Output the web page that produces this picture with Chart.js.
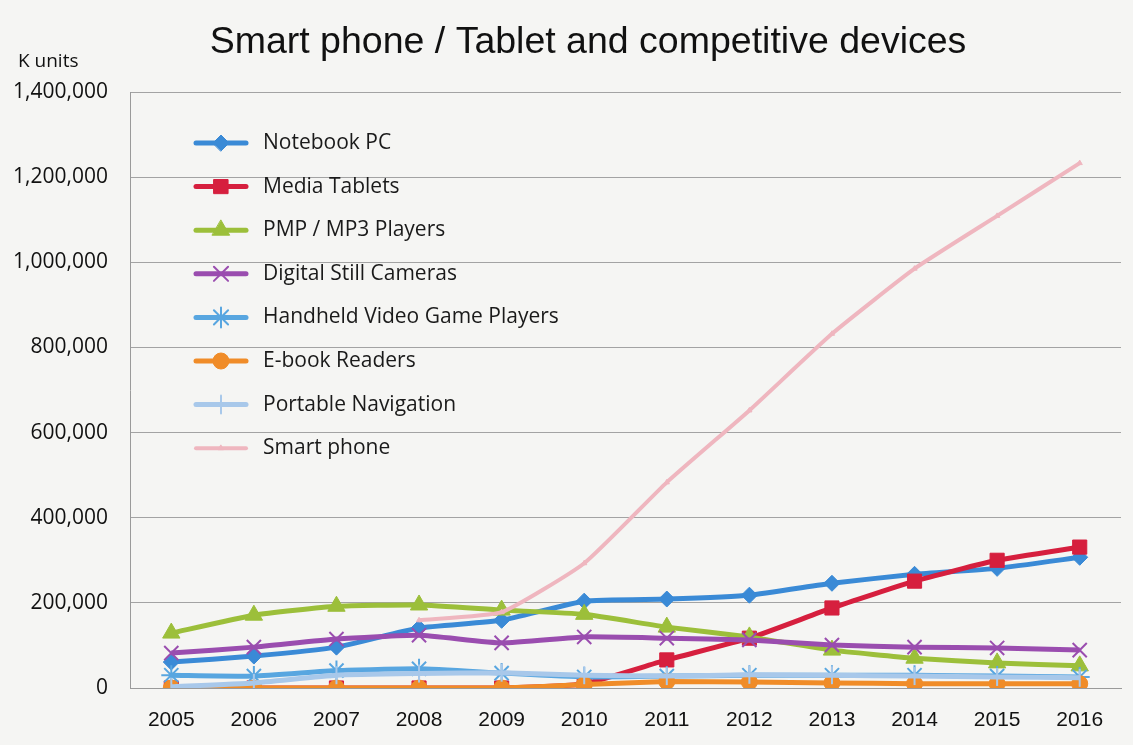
<!DOCTYPE html>
<html><head><meta charset="utf-8">
<script src="https://cdn.jsdelivr.net/npm/chart.js@4.4.0/dist/chart.umd.min.js"></script>
<style>
html,body{margin:0;padding:0;background:#f5f5f3;}
#wrap{width:1133px;height:745px;position:relative;}
</style></head>
<body><div id="wrap"><canvas id="c" width="1133" height="745"></canvas></div>
<script>
const years = ['2005','2006','2007','2008','2009','2010','2011','2012','2013','2014','2015','2016'];
const notebookPC = [61000, 75000, 96000, 141000, 159000, 204000, 209000, 218000, 246000, 267000, 281000, 307000];
const mediaTablets = [0, 0, 0, 0, 0, 10000, 66000, 117000, 188000, 251000, 300000, 331000];
const pmpPlayers = [129000, 171000, 192000, 195000, 183000, 173000, 143000, 120000, 89000, 70000, 59000, 52000];
const stillCameras = [82000, 96000, 115000, 124000, 106000, 120000, 117000, 113000, 101000, 96000, 94000, 89000];
const handheldGames = [30000, 28000, 41000, 45000, 35000, 26000, 28000, 30000, 30000, 30000, 28000, 26000];
const ebookReaders = [0, 0, 0, 0, 0, 8000, 15000, 14000, 12000, 10000, 10000, 10000];
const portableNav = [3000, 12000, 30000, 34000, 36000, 30000, 28000, 31000, 30000, 28000, 26000, 24000];
const smartPhone = [null, null, null, 159000, 178000, 293000, 483000, 652000, 832000, 985000, 1109000, 1233000];
const yTicks = [0, 200000, 400000, 600000, 800000, 1000000, 1200000, 1400000];
const titleText = 'Smart phone / Tablet and competitive devices';
const unitText = 'K units';

const series = [
  {label:'Notebook PC', data:notebookPC, color:'#3a8ad6', style:'rectRot', r:8, rot:0, w:5},
  {label:'Media Tablets', data:mediaTablets, color:'#d61f3e', style:'rect', r:10, rot:0, w:5},
  {label:'PMP / MP3 Players', data:pmpPlayers, color:'#9cbf3a', style:'triangle', r:10, rot:0, w:5},
  {label:'Digital Still Cameras', data:stillCameras, color:'#9a4daf', style:'crossRot', r:10, rot:0, w:5},
  {label:'Handheld Video Game Players', data:handheldGames, color:'#58a6e0', style:'star', r:10, rot:0, w:5},
  {label:'E-book Readers', data:ebookReaders, color:'#f08c28', style:'circle', r:8, rot:0, w:5},
  {label:'Portable Navigation', data:portableNav, color:'#a8c8ea', style:'line', r:9, rot:90, w:5},
  {label:'Smart phone', data:smartPhone, color:'#efb6bf', style:'triangle', r:3, rot:0, w:4}
];

const datasets = series.map((s,i)=>({
  label:s.label, data:s.data, borderColor:s.color, backgroundColor:s.color,
  borderWidth:s.w, pointStyle:s.style, pointRadius:s.r, pointRotation:s.rot,
  pointBorderWidth: (s.style==='crossRot'||s.style==='star'||s.style==='line') ? 2 : 1,
  pointBorderColor:s.color, pointBackgroundColor:s.color,
  tension:0.15, spanGaps:false, order: series.length - i
}));

const decor = {
  id:'decor',
  beforeDraw(chart){
    const ctx = chart.ctx;
    ctx.save();
    ctx.fillStyle = '#f5f5f3';
    ctx.fillRect(0,0,chart.width,chart.height);
    ctx.fillStyle = '#111';
    ctx.font = '37.5px "Liberation Sans", Arial, sans-serif';
    ctx.textAlign = 'center'; ctx.textBaseline = 'middle';
    ctx.fillText(titleText, 588, 43);
    ctx.font = '19px "Open Sans", sans-serif';
    ctx.textAlign = 'left';
    ctx.fillText(unitText, 18, 62);
    ctx.restore();
  },
  afterDatasetsDraw(chart){
    const ctx = chart.ctx;
    const a = chart.chartArea;
    ctx.save();
    chart.data.datasets.forEach((ds,i)=>{
      const y = 143 + i*43.6;
      const x0 = a.left + 66, x1 = a.left + 116;
      ctx.strokeStyle = ds.borderColor;
      ctx.lineWidth = ds.borderWidth;
      ctx.lineCap = 'round';
      ctx.beginPath(); ctx.moveTo(x0,y); ctx.lineTo(x1,y); ctx.stroke();
      ctx.fillStyle = ds.pointBackgroundColor;
      ctx.strokeStyle = ds.pointBorderColor;
      ctx.lineWidth = ds.pointBorderWidth;
      Chart.helpers.drawPoint(ctx, {pointStyle:ds.pointStyle, rotation:ds.pointRotation, radius:ds.pointRadius, borderWidth:ds.pointBorderWidth}, (x0+x1)/2, y);
      ctx.fillStyle = '#1a1a1a';
      ctx.font = '21px "Open Sans", sans-serif';
      ctx.textAlign = 'left'; ctx.textBaseline = 'middle';
      ctx.fillText(ds.label, a.left + 133, y);
    });
    ctx.restore();
  }
};

new Chart(document.getElementById('c'), {
  type:'line',
  data:{labels:years, datasets},
  options:{
    responsive:false, animation:false,
    layout:{padding:{top:92, right:9, bottom:0, left:0}},
    plugins:{legend:{display:false}, tooltip:{enabled:false}, title:{display:false}},
    scales:{
      x:{
        offset:true,
        afterFit(scale){ scale.height = 57; },
        grid:{display:false, drawTicks:false},
        border:{display:true, color:'#9a9a9a', width:1},
        ticks:{padding:20, color:'#111', maxRotation:0, font:{family:'"Liberation Sans", Arial, sans-serif', size:21}}
      },
      y:{
        min:0, max:1400000,
        afterFit(scale){ scale.width = 130; },
        afterBuildTicks(scale){ scale.ticks = yTicks.map(v=>({value:v})); },
        grid:{color:'#a3a3a3', lineWidth:1, drawTicks:false},
        border:{display:true, color:'#9a9a9a', width:1},
        ticks:{padding:22, color:'#111', font:{family:'"Open Sans", sans-serif', size:21},
          callback:(v)=>v.toLocaleString('en-US')}
      }
    }
  },
  plugins:[decor]
});
</script></body></html>
